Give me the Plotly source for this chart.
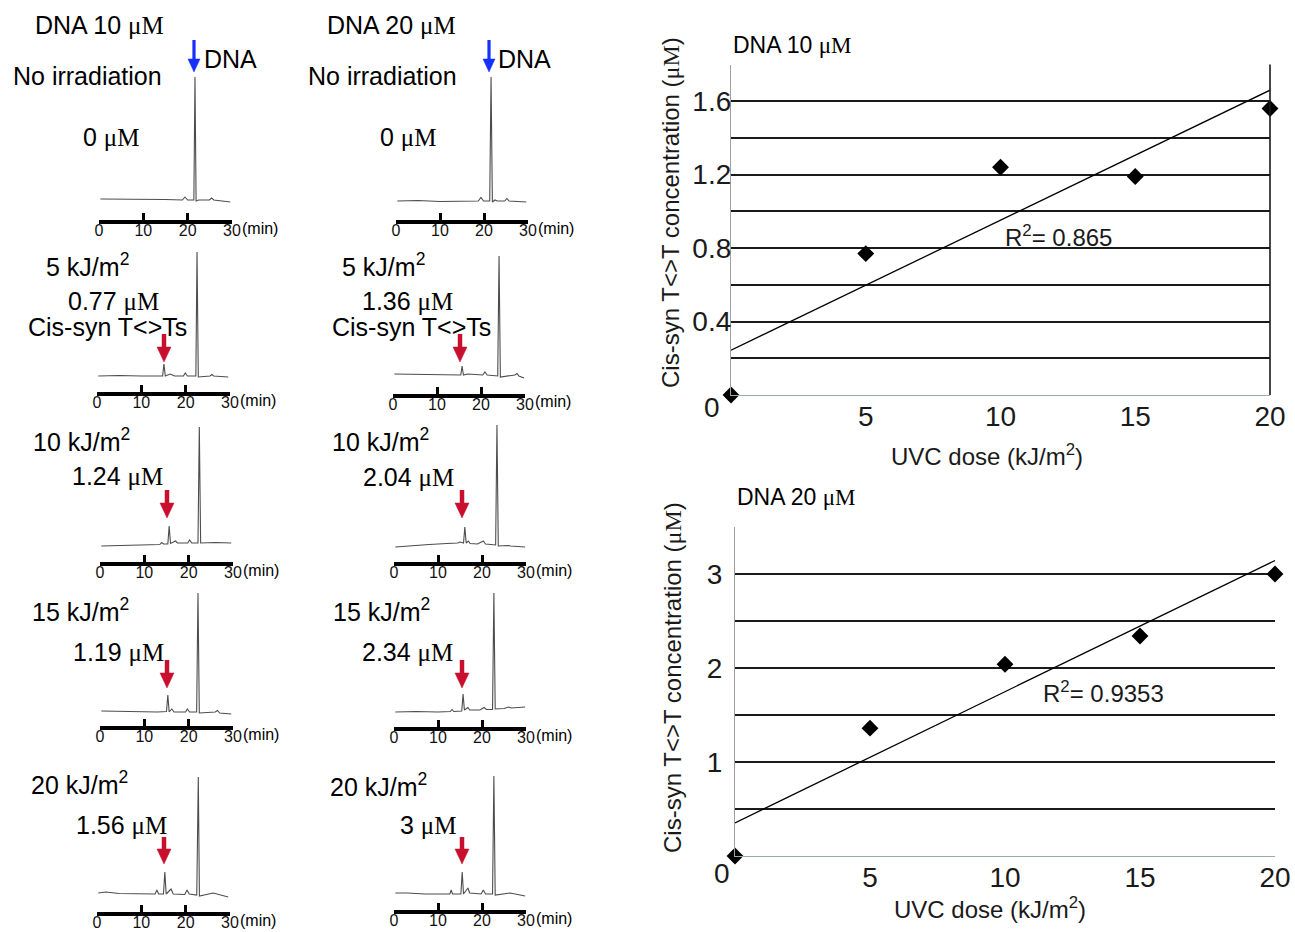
import numpy as np
import plotly.graph_objects as go

W, H = 1295, 932

# ---------------- data ----------------
dose = [0, 5, 10, 15, 20]                      # UVC dose, kJ/m2
conc_10 = [0, 0.77, 1.24, 1.19, 1.56]          # cis-syn T<>T (uM), DNA 10 uM
conc_20 = [0, 1.36, 2.04, 2.34, 3]             # cis-syn T<>T (uM), DNA 20 uM

# HPLC chromatograms: retention time (min) and detector signal (a.u.)
t_10_0 = [0.3, 5, 10, 15, 18.8, 19.4, 20.0, 21.4, 21.65, 21.9, 22.5, 24.9, 25.4, 25.9, 29.6]
s_10_0 = [1, 1, 0.5, 0.5, 0, 3, 0, 0, 123, -1, 0, 0, 2, 0, -2]
t_10_5 = [0.3, 5, 10, 14.8, 15.1, 15.4, 16.5, 17.5, 19.5, 19.9, 20.4, 22.3, 22.56, 22.85, 25.5, 25.9, 26.3, 29.6]
s_10_5 = [0, 0.5, 0, 0, 12, 0, 2, 0, 0, 3, 0, 0, 124, -1, 0, 1.5, 0, -1]
t_10_10 = [0.3, 5, 10, 13.5, 13.9, 14.3, 15.3, 15.6, 15.9, 17.0, 17.5, 19.8, 20.2, 20.7, 22.1, 22.4, 22.7, 26.0, 29.6]
s_10_10 = [0, 0.5, 1, 1.5, 3.5, 2, 2, 20, 2.5, 5, 3, 3, 6, 3, 3, 119, 3, 3.5, 3]
t_10_15 = [0.3, 5, 10, 13, 15.0, 15.3, 15.6, 16.2, 16.7, 19.3, 19.7, 20.2, 21.8, 22.1, 22.4, 26.0, 26.5, 27.0, 29.6]
s_10_15 = [1, 0.5, 0, 0, 0.5, 17, 0, 3, 0, 0, 3, 0, 0, 119, -1, 0, 1.5, -1, -2]
t_10_20 = [0.3, 2, 5, 10, 13.1, 13.5, 13.9, 15.0, 15.3, 15.6, 16.7, 17.2, 19.8, 20.3, 20.8, 22.5, 22.85, 23.1, 26.2, 29.6]
s_10_20 = [1, 2, 0.5, 0, 0, 4, 0, 0, 22, 0, 5, 0, -0.5, 4, 0, -1, 117, -2, 1, -3]
t_20_0 = [0.3, 5, 10, 15, 18.7, 19.3, 19.9, 21.3, 21.6, 21.9, 22.5, 23.0, 24.7, 25.2, 25.7, 29.6]
s_20_0 = [0, 0.5, -0.5, 0, 0, 3.5, 0, 0, 124, -1, 1, 0, 0, 2.5, 0, -1]
t_20_5 = [0.3, 5, 10, 14, 15.4, 15.7, 16.0, 17.0, 20.4, 20.9, 21.4, 23.8, 24.1, 24.4, 27.7, 28.2, 28.6, 29.8]
s_20_5 = [1, 0.5, 0, 0, 0, 9, 0, 1, 0, 3, 0, -1, 119, -2, 0, 1.5, -1, -3]
t_20_10 = [0.3, 3, 8, 12, 14.5, 15.0, 15.8, 16.1, 16.4, 16.9, 17.3, 19.0, 20.3, 20.8, 23.1, 23.4, 23.7, 26.0, 26.5, 29.8]
s_20_10 = [0, 1, 2.5, 3.5, 4, 5, 4, 20, 4, 6, 3.5, 3, 6, 3, 2, 122, 1, 1.5, 1, 0]
t_20_15 = [0.3, 5, 10, 12.8, 13.2, 13.6, 15.4, 15.7, 16.0, 16.8, 17.2, 19.5, 20.5, 21.0, 22.4, 22.7, 23.0, 25.0, 26.1, 26.6, 29.8]
s_20_15 = [0, 0.5, 0, 0.5, 2.5, 0.5, 1, 18, 2, 4.5, 2, 2, 4.5, 2.5, 2.5, 119, 3, 3.5, 5, 4, 5]
t_20_20 = [0.3, 3, 7, 10, 12.7, 13.0, 13.3, 15.2, 15.5, 15.8, 16.8, 17.2, 19.8, 20.3, 20.8, 22.4, 22.7, 23.0, 26.4, 29.8]
s_20_20 = [0, 0, -1, -1, -1, 3, -1, -1, 21, -1, 5, 0, -1, 3, -1, -1, 117, -2, 0, -3]

min_ticks = [0, 10, 20, 30]
dose_ticks = [5, 10, 15, 20]

SANS = "Liberation Sans, Arial, sans-serif"
SERIF = "Liberation Serif, Times New Roman, serif"
MU = '<span style="font-family:%s">μM</span>' % SERIF


def px(x):
    return x / W


def py(y):
    return 1 - y / H


fig = go.Figure()
layout = {}
annotations = []
shapes = []


def ax_name(kind, i):
    return kind + ("" if i == 1 else str(i))


def add_text(text, x, y, size=25, anchor="left", color="black", family=SANS, angle=0):
    if anchor == "left":
        x -= 1
    annotations.append(dict(text=text, x=px(x), y=py(y), xref="paper", yref="paper",
                            xanchor=anchor, yanchor="middle", showarrow=False, borderpad=0,
                            textangle=angle, font=dict(size=size, color=color, family=family)))


def add_arrow(x, y_top, y_tip, color, shaft_w, head_w, head_h):
    shapes.append(dict(type="line", xref="paper", yref="paper",
                       x0=px(x), x1=px(x), y0=py(y_top), y1=py(y_tip - head_h + 1),
                       line=dict(color=color, width=shaft_w)))
    path = "M %.5f %.5f L %.5f %.5f L %.5f %.5f Z" % (
        px(x - head_w / 2), py(y_tip - head_h), px(x + head_w / 2), py(y_tip - head_h),
        px(x), py(y_tip))
    shapes.append(dict(type="path", xref="paper", yref="paper", path=path,
                       fillcolor=color, line=dict(color=color, width=0.5)))


# ---------------- chromatograms ----------------
panels = [
    (t_10_0, s_10_0, 99, 232, 220, 200),
    (t_10_5, s_10_5, 97, 230, 392, 376),
    (t_10_10, s_10_10, 100, 233, 562, 546),
    (t_10_15, s_10_15, 100, 233, 726, 712),
    (t_10_20, s_10_20, 97, 230, 912, 894),
    (t_20_0, s_20_0, 396, 528, 220, 201),
    (t_20_5, s_20_5, 393, 525, 394, 375),
    (t_20_10, s_20_10, 394, 526, 562, 547),
    (t_20_15, s_20_15, 394, 526, 727, 712),
    (t_20_20, s_20_20, 394, 526, 910, 893),
]

for i, (t, s, x0, x30, bar, base) in enumerate(panels, start=1):
    smax = max(s)
    top = base - smax
    fig.add_trace(go.Scatter(x=t, y=s, mode="lines", line=dict(color="#4d4d4d", width=1.1),
                             xaxis="x%d" % i, yaxis="y%d" % i, showlegend=False, hoverinfo="skip"))
    layout[ax_name("xaxis", i)] = dict(
        domain=[px(x0), px(x30)], range=[0, 30], anchor="y%d" % i, automargin=False,
        showgrid=False, zeroline=False, showline=True, linewidth=3.5, linecolor="black",
        ticks="inside", ticklen=7, tickwidth=2.5, tickcolor="black",
        tickvals=min_ticks, tickfont=dict(size=16, family=SANS, color="#111"),
        ticklabelstandoff=-7)
    layout[ax_name("yaxis", i)] = dict(
        domain=[py(bar), py(top)], range=[-(bar - base), smax], anchor="x%d" % i,
        visible=False, automargin=False)
    add_text("(min)", x30 + 10, bar + 8, size=16)

# text labels on the chromatograms
col_x = [0, 295]
for c, (dna, concs) in enumerate([(10, conc_10), (20, conc_20)]):
    off = col_x[c]
    add_text("DNA %d %s" % (dna, MU), 35 + off - (3 if c else 0), 25)
    add_text("No irradiation", 13 + off, 76)
    add_text("%g %s" % (concs[0], MU), 83 + off + (2 if c else 0), 137)
    add_text("DNA", 204 + off - (1 if c else 0), 59)
    add_arrow(194 + off, 40, 72, "#1530ff", 3.2, 12, 13)

lab_pos = {
    0: [(46, 265, 68, 301), (33, 440, 72, 476), (32, 610, 73, 652), (31, 783, 76, 825)],
    1: [(342, 265, 362, 301), (332, 440, 363, 477), (333, 610, 362, 652), (330, 785, 400, 825)],
}
arrow_pos = {
    0: [(164, 334, 362), (167, 490, 518), (167, 660, 688), (164, 837, 864)],
    1: [(460, 334, 362), (462, 490, 518), (462, 660, 688), (462, 837, 864)],
}
for c, concs in enumerate([conc_10, conc_20]):
    for k in range(1, 5):
        dx, dy, cx, cy = lab_pos[c][k - 1]
        add_text("%d kJ/m<sup>2</sup>" % dose[k], dx, dy)
        add_text("%g %s" % (concs[k], MU), cx, cy)
        ax_, a_top, a_tip = arrow_pos[c][k - 1]
        add_arrow(ax_, a_top, a_tip, "#c8102e", 4.5, 14, 15)
    add_text("Cis-syn T&lt;&gt;Ts", 28 + (304 if c else 0), 327)

# ---------------- dose-response plots ----------------
grid = "#1a1a1a"
right = [
    (11, conc_10, 731, 1270, 395, 64.5, [0, 1.8],
     [0.4, 0.8, 1.2, 1.6], [0.2, 0.6, 1.0, 1.4, 1.8],
     "DNA 10", (733, 45), (712, 408), (670, 213), (987, 455), (1005, 236), 3, -7),
    (12, conc_20, 735, 1275, 856, 527, [0, 3.5],
     [1, 2, 3], [0.5, 1.5, 2.5, 3.5],
     "DNA 20", (737, 497), (722, 873), (672, 678), (990, 908), (1043, 692), 4, 6),
]
for (i, conc, xl, xr, yb, yt, yr, yv, yminor, title, tpos, zpos, ytpos, xtpos, rpos, nd,
     ystand) in right:
    slope, icpt = np.polyfit(dose, conc, 1)
    r2 = np.corrcoef(dose, conc)[0, 1] ** 2
    xs = [min(dose), max(dose)]
    fig.add_trace(go.Scatter(x=xs, y=[icpt + slope * v for v in xs], mode="lines",
                             line=dict(color="black", width=1.3), xaxis="x%d" % i, yaxis="y%d" % i,
                             showlegend=False, hoverinfo="skip", cliponaxis=False))
    fig.add_trace(go.Scatter(x=dose, y=conc, mode="markers",
                             marker=dict(symbol="diamond", size=13, color="black"),
                             xaxis="x%d" % i, yaxis="y%d" % i, showlegend=False, cliponaxis=False))
    layout["xaxis%d" % i] = dict(
        domain=[px(xl), px(xr)], range=[0, 20], anchor="y%d" % i, automargin=False,
        showgrid=False, zeroline=False, showline=True, linecolor="#9aabab", linewidth=1.3,
        ticks="", tickvals=dose_ticks, tickfont=dict(size=28, family=SANS, color="#1a1a1a"),
        ticklabelstandoff=-4)
    layout["yaxis%d" % i] = dict(
        domain=[py(yb), py(yt)], range=yr, anchor="x%d" % i, automargin=False,
        showgrid=True, gridcolor=grid, gridwidth=1.6, zeroline=False,
        showline=True, linecolor="#a0a0a0", linewidth=1.3, ticks="",
        tickvals=yv, tickfont=dict(size=28, family=SANS, color="#1a1a1a"),
        ticklabelstandoff=ystand,
        minor=dict(tickmode="array", tickvals=yminor, showgrid=True, gridcolor=grid,
                   gridwidth=1.6, ticks=""))
    add_text("%s %s" % (title, MU), tpos[0], tpos[1], size=23)
    add_text("0", zpos[0], zpos[1], size=28, anchor="center", color="#1a1a1a")
    add_text("Cis-syn T&lt;&gt;T concentration (%s)" % MU, ytpos[0], ytpos[1], size=24,
             anchor="center", angle=-90, color="#1a1a1a")
    add_text("UVC dose (kJ/m<sup>2</sup>)", xtpos[0], xtpos[1], size=24, anchor="center", color="#1a1a1a")
    add_text("R<sup>2</sup>= %.*f" % (nd, r2), rpos[0], rpos[1], size=24, color="#1a1a1a")

# right border of the top dose-response plot
shapes.append(dict(type="line", xref="x11 domain", yref="y11 domain", x0=1, x1=1, y0=0, y1=1,
                   line=dict(color=grid, width=1.6)))

fig.update_layout(**layout)
fig.update_layout(width=W, height=H, autosize=False, margin=dict(l=0, r=0, t=0, b=0, pad=0),
                  paper_bgcolor="white", plot_bgcolor="white",
                  annotations=annotations, shapes=shapes, showlegend=False,
                  font=dict(family=SANS, color="black"))

post = (
    "document.documentElement.style.margin='0';"
    "document.body.style.margin='0';"
    "document.body.style.overflow='hidden';"
)
fig.write_html("out.html", config={"displayModeBar": False, "responsive": False},
               post_script=post)
